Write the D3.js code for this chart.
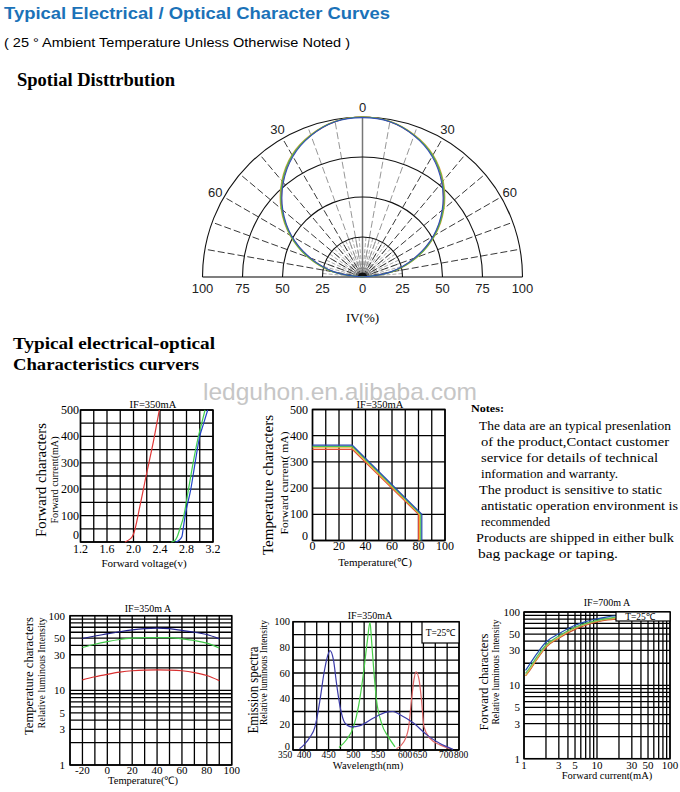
<!DOCTYPE html>
<html>
<head>
<meta charset="utf-8">
<script src="https://cdn.jsdelivr.net/npm/d3@7"></script>
<style>
  body { margin: 0; background: #fff; }
  svg { display: block; }
</style>
</head>
<body>
<div id="chart"></div>
<script>
// ---- data ----

// spatial distribution (angle in degrees, IV in %)
const polarAngles = [-90,-80,-70,-60,-50,-40,-30,-20,-10,0,10,20,30,40,50,60,70,80,90];
const polarRed    = [0,18,35,51.5,65.5,77.5,87.5,94.2,98.6,100,98.6,94.2,87.5,77.5,65.5,51.5,35,18,0];
const polarOrange = [0,19,36.5,52.5,66.5,78.5,88.2,94.6,98.8,100,98.8,94.6,88.2,78.5,66.5,52.5,36.5,19,0];
const polarGreen  = [0,18.5,36,52,66,78,87.8,94.4,98.7,100,98.7,94.4,87.8,78,66,52,36,18.5,0];
const polarBlue   = [0,17.5,34.5,51,65,77,87,94,98.5,99.6,98.5,94,87,77,65,51,34.5,17.5,0];
const polarBaseTicks = [-100,-75,-50,-25,0,25,50,75,100];
const polarAngleTicks = [-60,-30,0,30,60];

// forward voltage vs current
const fwdRedV   = [1.87,1.93,1.98,2.0,2.1,2.19,2.3,2.39];
const fwdRedI   = [0,8,20,30,140,250,380,500];
const fwdGreenV = [2.57,2.62,2.66,2.7,2.76,2.83,2.9,2.98,3.03,3.08];
const fwdGreenI = [0,5,20,50,100,200,300,400,450,500];
const fwdBlueV  = [2.63,2.68,2.73,2.75,2.78,2.865,2.93,3.0,3.06,3.12];
const fwdBlueI  = [0,5,20,50,100,200,300,400,450,500];
const fwdXTicks = [1.2,1.6,2.0,2.4,2.8,3.2];
const fwdYTicks = [0,100,200,300,400,500];

// temperature derating
const derBlueT   = [0,30,82.5,82.5];
const derBlueI   = [364,364,100,0];
const derGreenT  = [0,30,81.7,81.7];
const derGreenI  = [359,359,100,0];
const derOrangeT = [0,30,80.8,80.8];
const derOrangeI = [354,354,100,0];
const derRedT    = [0,30,80,80];
const derRedI    = [348,348,100,0];
const derXTicks = [0,20,40,60,80,100];
const derYTicks = [0,100,200,300,400,500];

// relative luminous intensity vs temperature
const lumTemp  = [-20,-10,0,10,20,30,40,50,60,70,80,90];
const lumBlue  = [49.5,53.5,57,61,64.5,67,68,67,63.5,60,56,49];
const lumGreen = [37.5,41.5,45,48,50,51,51,51,49,46.5,43,37];
const lumRed   = [13.8,15.2,16.4,17.5,18.3,18.7,18.8,18.7,18.3,17.3,15.8,13.5];
const lumXTicks = [-20,0,20,40,60,80,100];
const logYTicks = [1,3,5,10,30,50,100];

// emission spectra
const specBlueW  = [391,400,412,422,432,440,447,452,459,465,472,482,495,512,539,565,578,592,619,645,672,698];
const specBlueV  = [1,4,10,18,39,60,73,77.5,70,52,34,21,18,19,25,29.5,30,27.5,21,12,5,0.5];
const specGreenW = [470,485,499,509,519,527,532,535,539,545,555,569,582];
const specGreenV = [2,8,18,34,60,86,99.5,86,65,39,21,10,2.5];
const specRedW   = [585,599,609,615,620,624,630,635,640,652,672,692];
const specRedV   = [1,6,17,39,55,61,55,39,18,9,4,1];
const specXTicks = [350,400,450,500,550,600,650,700,800];
const specYTicks = [0,20,40,60,80,100];

// relative luminous intensity vs forward current
const ivCurrent = [1.05,1.2,1.5,2,3,5,7,10,14,18];
const ivBlue    = [16,19.5,27,39,50.5,66,74,81,86,89];
const ivGreen   = [14.5,17.5,24.5,35.5,47,62,70,77,82,85];
const ivOrange  = [13.5,16.5,23,34,45,60,68,75,80,82];
const ivRed     = [13.5,16,22.5,33,44,58,66,73,78,80];
const ivXTicks  = [1,3,5,10,30,50,100];

const notesLines = [
  "The data are an typical presenlation",
  "of the product,Contact customer",
  "service for details of technical",
  "information and warranty.",
  "The product is sensitive to static",
  "antistatic operation environment is",
  "recommended",
  "Products are shipped in either bulk",
  "bag package or taping."
];

// ---- drawing ----
const SERIF = "'Liberation Serif','Times New Roman',serif";
const SANS = "'Liberation Sans',Arial,sans-serif";

const svg = d3.select("#chart").append("svg")
  .attr("width", 680).attr("height", 792);

function text(g, x, y, str, size, opts) {
  opts = opts || {};
  const t = g.append("text")
    .attr("x", x).attr("y", y)
    .attr("font-family", opts.family || SERIF)
    .attr("font-size", size)
    .attr("font-weight", opts.weight || "normal")
    .attr("fill", opts.fill || "#000")
    .attr("text-anchor", opts.anchor || "start")
    .text(str);
  if (opts.middle) t.attr("dominant-baseline", "central");
  if (opts.len) t.attr("textLength", opts.len).attr("lengthAdjust", "spacingAndGlyphs");
  return t;
}

function vtext(g, x, y, str, size, len) {
  const t = g.append("text")
    .attr("transform", `translate(${x},${y}) rotate(-90)`)
    .attr("font-family", SERIF).attr("font-size", size)
    .attr("text-anchor", "middle").attr("dominant-baseline", "central")
    .text(str);
  if (len) t.attr("textLength", len).attr("lengthAdjust", "spacingAndGlyphs");
  return t;
}

function logGrid(lo, hi) {
  const out = [];
  for (let p = lo; p < hi; p *= 10) {
    for (let k = 1; k < 10; k++) out.push(p * k);
  }
  out.push(hi);
  return out;
}

function drawGrid(g, x, y, xVals, yVals) {
  const [yb, yt] = y.range();
  const [xl, xr] = x.range();
  g.append("g").selectAll("line").data(xVals).enter().append("line")
    .attr("x1", d => x(d)).attr("x2", d => x(d))
    .attr("y1", yb).attr("y2", yt)
    .attr("stroke", "#000").attr("stroke-width", 1.3);
  g.append("g").selectAll("line").data(yVals).enter().append("line")
    .attr("x1", xl).attr("x2", xr)
    .attr("y1", d => y(d)).attr("y2", d => y(d))
    .attr("stroke", "#000").attr("stroke-width", 1.3);
  g.append("rect")
    .attr("x", xl).attr("y", yt).attr("width", xr - xl).attr("height", yb - yt)
    .attr("fill", "none").attr("stroke", "#000").attr("stroke-width", 1.5);
}

function drawSeries(g, x, y, xs, ys, color, curve, width) {
  const pts = xs.map((v, i) => [v, ys[i]]);
  g.append("path")
    .attr("d", d3.line().x(d => x(d[0])).y(d => y(d[1])).curve(curve || d3.curveMonotoneX)(pts))
    .attr("fill", "none").attr("stroke", color).attr("stroke-width", width || 1.2);
}

function yLabels(g, y, vals, xr, size, fmt) {
  g.append("g").selectAll("text").data(vals).enter().append("text")
    .attr("x", xr).attr("y", d => y(d))
    .attr("text-anchor", "end").attr("dominant-baseline", "central")
    .attr("font-family", SERIF).attr("font-size", size)
    .text(d => fmt ? fmt(d) : d);
}

function xLabels(g, x, vals, yc, size, fmt) {
  return g.append("g").selectAll("text").data(vals).enter().append("text")
    .attr("x", d => x(d)).attr("y", yc)
    .attr("text-anchor", "middle").attr("dominant-baseline", "central")
    .attr("font-family", SERIF).attr("font-size", size)
    .text(d => fmt ? fmt(d) : d);
}

// headers
text(svg, 4, 18.5, "Typical Electrical / Optical Character Curves", 16.5,
  {family: SANS, weight: "bold", fill: "#1b72b8", len: 386});
text(svg, 4, 47, "( 25 ° Ambient Temperature Unless Otherwise Noted )", 13,
  {family: SANS, len: 346});
text(svg, 17, 86, "Spotial Disttrbution", 18, {weight: "bold", len: 158});
text(svg, 13, 349, "Typical electrical-optical", 17, {weight: "bold", len: 202});
text(svg, 13, 370, "Characteristics curvers", 17, {weight: "bold", len: 186});

// ---- polar chart ----
(function() {
  const cx = 362.5, cy = 277;
  const r = d3.scaleLinear().domain([0, 100]).range([0, 160]);
  const g = svg.append("g").attr("transform", `translate(${cx},${cy})`);
  const rad = a => a * Math.PI / 180;
  const arc = d3.arc().startAngle(rad(-90)).endAngle(rad(90));

  // inner fine spokes
  g.append("g").selectAll("line").data(d3.range(-85, 90, 5)).enter().append("line")
    .attr("x1", 0).attr("y1", 0)
    .attr("x2", d => r(25) * Math.sin(rad(d))).attr("y2", d => -r(25) * Math.cos(rad(d)))
    .attr("stroke", "#999").attr("stroke-width", 0.8).attr("stroke-dasharray", "4,2");
  // main spokes, lighter near the vertical
  g.append("g").selectAll("line").data(d3.range(-80, 90, 10).filter(d => d !== 0)).enter().append("line")
    .attr("x1", 0).attr("y1", 0)
    .attr("x2", d => r(100) * Math.sin(rad(d))).attr("y2", d => -r(100) * Math.cos(rad(d)))
    .attr("stroke", d => Math.abs(d) <= 20 ? "#8a8a8a" : "#222")
    .attr("stroke-width", 0.9).attr("stroke-dasharray", "7,3");
  g.append("line").attr("x1", 0).attr("y1", 0).attr("x2", 0).attr("y2", -r(100))
    .attr("stroke", "#777").attr("stroke-width", 1.5);
  // rings
  g.append("g").selectAll("path").data([25, 50, 75, 100]).enter().append("path")
    .attr("d", d => arc({innerRadius: r(d), outerRadius: r(d)}))
    .attr("fill", "none").attr("stroke", "#111").attr("stroke-width", 1.1);
  g.append("path").attr("d", arc({innerRadius: 0, outerRadius: 4.5})).attr("fill", "#111");
  g.append("path").attr("d", arc({innerRadius: 9, outerRadius: 9}))
    .attr("fill", "none").attr("stroke", "#888");
  g.append("line").attr("x1", -r(100)).attr("x2", r(100)).attr("y1", 0).attr("y2", 0)
    .attr("stroke", "#000").attr("stroke-width", 1.2);

  const radial = d3.lineRadial().angle(d => rad(d[0])).radius(d => r(d[1])).curve(d3.curveCardinal);
  [[polarRed, "#d84a3a"], [polarOrange, "#e0a040"], [polarGreen, "#4cb84c"], [polarBlue, "#3050b8"]]
    .forEach(([vals, col]) => {
      g.append("path").attr("d", radial(polarAngles.map((a, i) => [a, vals[i]])))
        .attr("fill", "none").attr("stroke", col).attr("stroke-width", 1.1);
    });

  g.append("g").selectAll("text").data(polarBaseTicks).enter().append("text")
    .attr("x", d => (d < 0 ? -1 : 1) * r(Math.abs(d))).attr("y", 11)
    .attr("text-anchor", "middle").attr("dominant-baseline", "central")
    .attr("font-family", SANS).attr("font-size", 13).attr("fill", "#222")
    .text(d => Math.abs(d));
  g.append("g").selectAll("text").data(polarAngleTicks).enter().append("text")
    .attr("x", d => 170 * Math.sin(rad(d))).attr("y", d => -170 * Math.cos(rad(d)))
    .attr("text-anchor", "middle").attr("dominant-baseline", "central")
    .attr("font-family", SANS).attr("font-size", 13).attr("fill", "#222")
    .text(d => Math.abs(d));
  text(g, 0, 40, "IV(%)", 13, {anchor: "middle", middle: true});
})();

// watermark
text(svg, 203, 400, "ledguhon.en.alibaba.com", 24, {family: SANS, fill: "#c6c6c6", len: 274});

// ---- forward characters ----
(function() {
  const g = svg.append("g");
  const x = d3.scaleLinear().domain([1.2, 3.2]).range([80.5, 213]);
  const y = d3.scaleLinear().domain([0, 500]).range([542, 410]);
  drawGrid(g, x, y, d3.range(1.2, 3.25, 0.2), d3.range(0, 501, 50));
  drawSeries(g, x, y, fwdRedV, fwdRedI, "#e03838");
  drawSeries(g, x, y, fwdGreenV, fwdGreenI, "#3fd050");
  drawSeries(g, x, y, fwdBlueV, fwdBlueI, "#2244c8");
  yLabels(g, y, fwdYTicks, 79, 12);
  g.selectAll("text").filter(d => d === 0).attr("y", 535);
  xLabels(g, x, fwdXTicks, 549, 12, d3.format(".1f"));
  text(g, 153, 404, "IF=350mA", 10.5, {anchor: "middle", middle: true});
  text(g, 144, 563, "Forward voltage(v)", 11, {anchor: "middle", middle: true});
  vtext(g, 41, 480, "Forward characters", 15, 114);
  vtext(g, 54, 480, "Forward current(mA)", 10.5, 87);
})();

// ---- temperature characters (derating) ----
(function() {
  const g = svg.append("g");
  const x = d3.scaleLinear().domain([0, 100]).range([312.5, 445]);
  const y = d3.scaleLinear().domain([0, 500]).range([540.5, 409.5]);
  drawGrid(g, x, y, d3.range(0, 101, 10), d3.range(0, 501, 100));
  drawSeries(g, x, y, derRedT, derRedI, "#e04a3a", d3.curveLinear);
  drawSeries(g, x, y, derOrangeT, derOrangeI, "#e8b030", d3.curveLinear);
  drawSeries(g, x, y, derGreenT, derGreenI, "#48c058", d3.curveLinear);
  drawSeries(g, x, y, derBlueT, derBlueI, "#2848b0", d3.curveLinear);
  yLabels(g, y, derYTicks, 308, 12);
  g.selectAll("text").filter(d => d === 0).attr("y", 536);
  xLabels(g, x, derXTicks, 546, 12);
  text(g, 380, 404, "IF=350mA", 10.5, {anchor: "middle", middle: true});
  text(g, 375, 562, "Temperature(℃)", 11, {anchor: "middle", middle: true});
  vtext(g, 267.5, 485, "Temperature characters", 15, 140);
  vtext(g, 284, 483, "Forward current( mA)", 10.5, 103);
})();

// ---- notes ----
(function() {
  const g = svg.append("g");
  text(g, 471, 412, "Notes:", 11, {weight: "bold", len: 33});
  const xs = [479, 481, 481, 481, 479, 481, 481, 476, 478];
  const lens = [192, 188, 177, 137, 183, 197, 69, 198, 140];
  notesLines.forEach((s, i) => {
    text(g, xs[i], 430 + i * 16, s, 13, {len: lens[i]});
  });
})();

// ---- relative luminous intensity vs temperature ----
(function() {
  const g = svg.append("g");
  const x = d3.scaleLinear().domain([-30, 100]).range([70, 231.7]);
  const y = d3.scaleLog().domain([1, 100]).range([765, 615.7]);
  drawGrid(g, x, y, d3.range(-30, 101, 10), logGrid(1, 100));
  drawSeries(g, x, y, lumTemp, lumRed, "#d83030");
  drawSeries(g, x, y, lumTemp, lumGreen, "#40c848");
  drawSeries(g, x, y, lumTemp, lumBlue, "#20208c");
  yLabels(g, y, logYTicks, 65, 11);
  xLabels(g, x, lumXTicks, 770, 11);
  text(g, 148, 608, "IF=350m A", 10, {anchor: "middle", middle: true});
  text(g, 143, 780, "Temperature(℃)", 10.5, {anchor: "middle", middle: true});
  vtext(g, 28, 676, "Temperature characters", 13.5, 118);
  vtext(g, 42, 673, "Relative luminous Intensity", 9.5, 111);
})();

// ---- emission spectra ----
(function() {
  const g = svg.append("g");
  const x = d3.scaleLinear().domain([378, 710]).range([293, 459]);
  const y = d3.scaleLinear().domain([0, 100]).range([750, 621.7]);
  const step = (710 - 378) / 14;
  drawGrid(g, x, y, d3.range(0, 15).map(i => 378 + i * step), d3.range(0, 101, 10));
  drawSeries(g, x, y, specRedW, specRedV, "#e06666");
  drawSeries(g, x, y, specGreenW, specGreenV, "#48d048");
  drawSeries(g, x, y, specBlueW, specBlueV, "#3a3aa8");
  // the printed wavelength labels are squeezed toward the right end
  const labelX = d3.scaleLinear().domain([350, 400, 550, 600, 650, 700, 800])
    .range([285, 304, 378, 405, 420, 446, 461]);
  xLabels(g, labelX, specXTicks, 755, 9.5);
  yLabels(g, y, specYTicks, 290, 10.5);
  g.selectAll("text").filter(d => d === 0).attr("y", 746);
  g.append("rect").attr("x", 422).attr("y", 622).attr("width", 37).attr("height", 21)
    .attr("fill", "#fff").attr("stroke", "#000").attr("stroke-width", 1.2);
  text(g, 440.5, 632.5, "T=25℃", 9.5, {anchor: "middle", middle: true});
  text(g, 370, 615, "IF=350mA", 10, {anchor: "middle", middle: true});
  text(g, 368, 765, "Wavelength(nm)", 10.5, {anchor: "middle", middle: true});
  vtext(g, 253, 690, "Emission spectra", 14, 87);
  vtext(g, 263.5, 672.5, "Relative luminous Intensity", 9.5, 105);
})();

// ---- relative luminous intensity vs forward current ----
(function() {
  const g = svg.append("g");
  const x = d3.scaleLog().domain([1, 100]).range([524, 670]);
  const y = d3.scaleLog().domain([1, 100]).range([758.7, 612]);
  drawGrid(g, x, y, logGrid(1, 100), logGrid(1, 100));
  drawSeries(g, x, y, ivCurrent, ivRed, "#c84a30");
  drawSeries(g, x, y, ivCurrent, ivOrange, "#e0b040");
  drawSeries(g, x, y, ivCurrent, ivGreen, "#50c060");
  drawSeries(g, x, y, ivCurrent, ivBlue, "#2050b0");
  g.append("rect").attr("x", 616).attr("y", 612).attr("width", 54).attr("height", 9)
    .attr("fill", "#fff").attr("stroke", "#000").attr("stroke-width", 1.2);
  text(g, 640, 617, "T=25℃", 9.5, {anchor: "middle", middle: true});
  yLabels(g, y, logYTicks, 520, 11);
  xLabels(g, x, ivXTicks, 765, 11);
  text(g, 607, 602, "IF=700m A", 10, {anchor: "middle", middle: true});
  text(g, 607, 775, "Forward current(mA)", 10.5, {anchor: "middle", middle: true});
  vtext(g, 483, 682, "Forward characters", 13, 97);
  vtext(g, 496, 672, "Relative luminous Intensity", 9.5, 105);
})();
</script>
</body>
</html>
